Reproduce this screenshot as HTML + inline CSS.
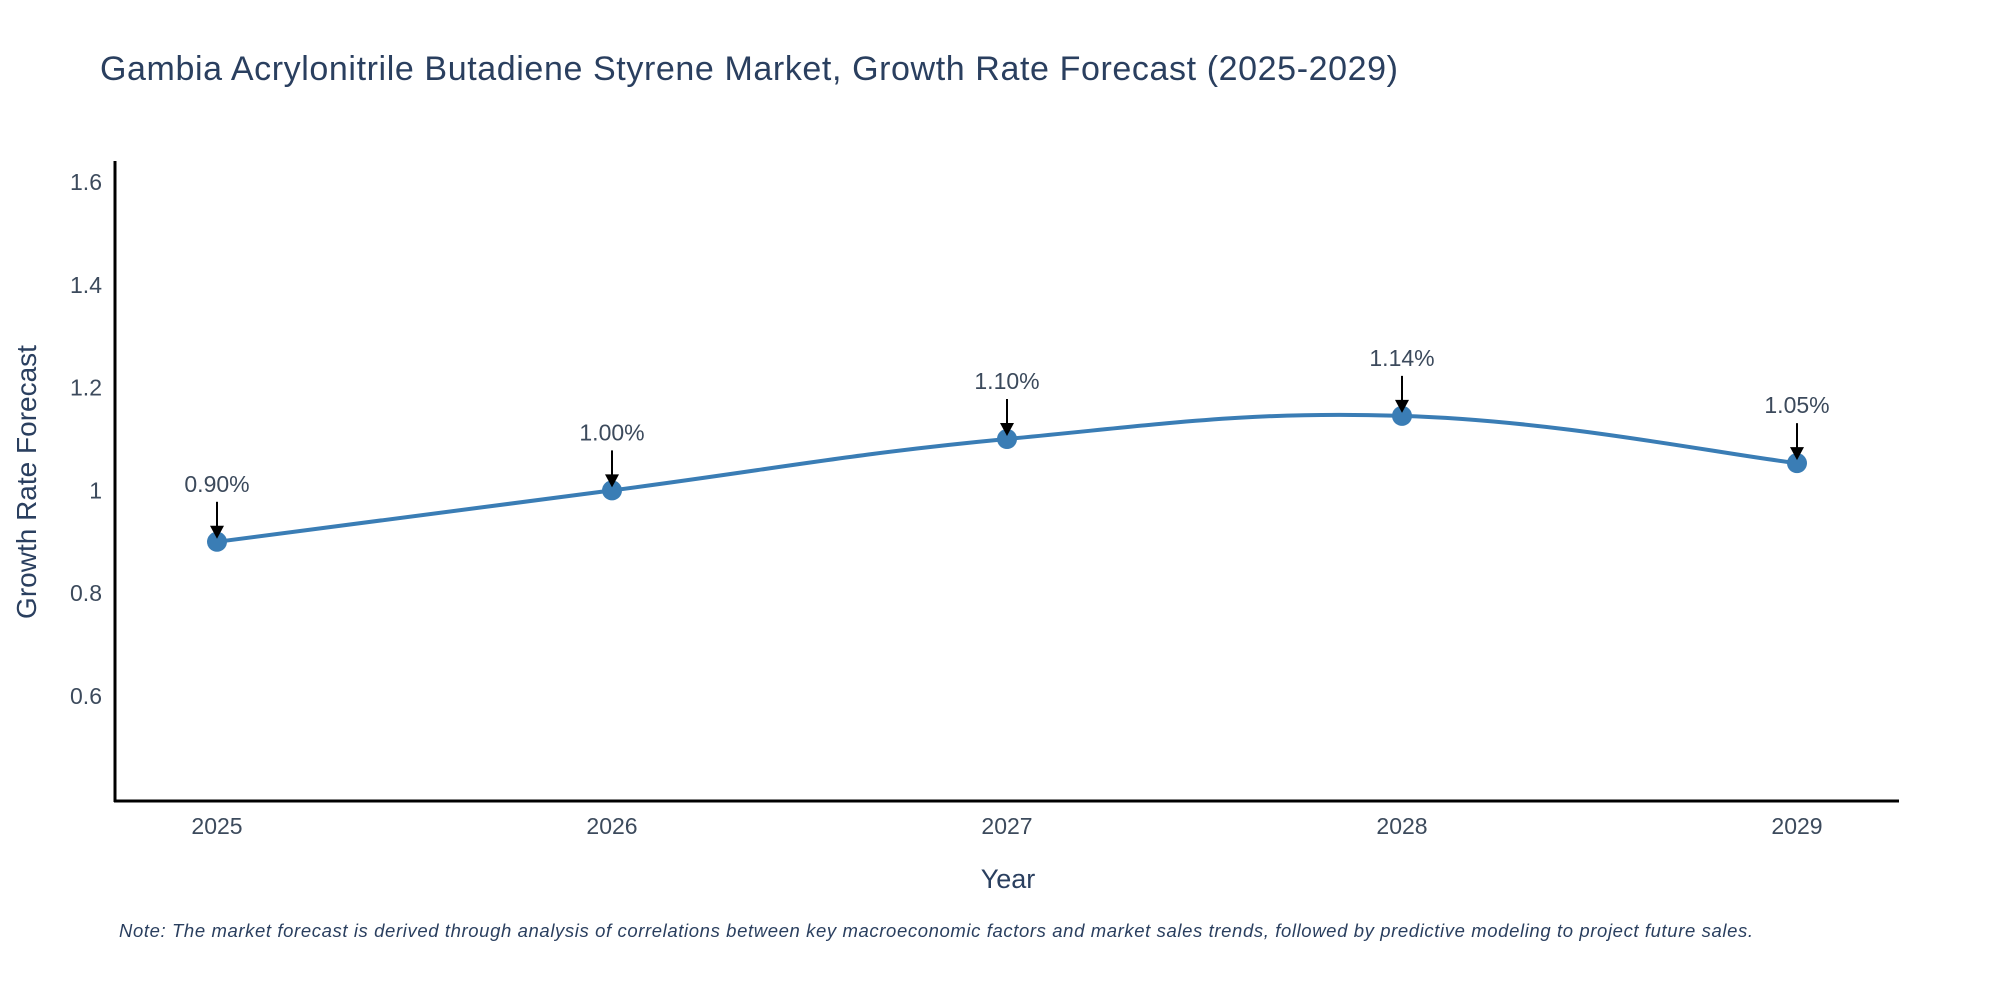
<!DOCTYPE html>
<html><head><meta charset="utf-8"><style>
body{margin:0;background:#fff;}
svg{display:block;font-family:"Liberation Sans",sans-serif;}
</style></head><body>
<svg id="chart" width="2000" height="1000" viewBox="0 0 2000 1000">
<text x="100" y="80" font-size="34" fill="#2a3f5f" textLength="1298">Gambia Acrylonitrile Butadiene Styrene Market, Growth Rate Forecast (2025-2029)</text>
<g id="yticks"></g>
<g id="xticks"></g>
<line x1="115" y1="161" x2="115" y2="802" stroke="#000" stroke-width="3"/>
<line x1="114" y1="801" x2="1899" y2="801" stroke="#000" stroke-width="3"/>
<text x="1008" y="888" font-size="27" fill="#2a3f5f" text-anchor="middle">Year</text>
<text transform="translate(36,482) rotate(-90)" font-size="28" fill="#2a3f5f" text-anchor="middle">Growth Rate Forecast</text>
<g id="series"></g>
<text x="119" y="937" font-size="18.5" font-style="italic" fill="#2a3f5f" textLength="1634">Note: The market forecast is derived through analysis of correlations between key macroeconomic factors and market sales trends, followed by predictive modeling to project future sales.</text>
</svg>
<script>
const years = ["2025","2026","2027","2028","2029"];
const growthValues = [0.90, 1.00, 1.10, 1.145, 1.053];
const growthLabels = ["0.90%","1.00%","1.10%","1.14%","1.05%"];
const yTickValues = [0.6, 0.8, 1, 1.2, 1.4, 1.6];
const yTickLabels = ["0.6","0.8","1","1.2","1.4","1.6"];

const NS = "http://www.w3.org/2000/svg";
function xScale(i){ return 217 + i * 395; }
function yScale(v){ return 696 - (v - 0.6) / 0.2 * 102.8; }
function mk(tag, attrs, parent){
  const e = document.createElementNS(NS, tag);
  for (const k in attrs) e.setAttribute(k, attrs[k]);
  parent.appendChild(e); return e;
}
const yg = document.getElementById('yticks');
yTickValues.forEach((v, i) => {
  const t = mk('text', {x: 102, y: yScale(v) + 8, 'font-size': 23, fill: '#3c4a5c', 'text-anchor': 'end'}, yg);
  
  
  t.textContent = yTickLabels[i];
});
const xg = document.getElementById('xticks');
years.forEach((y, i) => {
  const t = mk('text', {x: xScale(i), y: 834, 'font-size': 23, fill: '#3c4a5c', 'text-anchor': 'middle'}, xg);
  
  
  t.textContent = y;
});
const sg = document.getElementById('series');
const pts = growthValues.map((v, i) => [xScale(i), yScale(v)]);
let d = 'M' + pts[0][0] + ',' + pts[0][1];
const s = 0.2;
for (let i = 0; i < pts.length - 1; i++) {
  const p0 = pts[Math.max(i - 1, 0)], p1 = pts[i], p2 = pts[i + 1], p3 = pts[Math.min(i + 2, pts.length - 1)];
  const c1 = [p1[0] + (p2[0] - p0[0]) * s, p1[1] + (p2[1] - p0[1]) * s];
  const c2 = [p2[0] - (p3[0] - p1[0]) * s, p2[1] - (p3[1] - p1[1]) * s];
  d += ' C' + c1[0] + ',' + c1[1] + ' ' + c2[0] + ',' + c2[1] + ' ' + p2[0] + ',' + p2[1];
}
const line = mk('path', {d: d, fill: 'none', stroke: '#3a7db5', 'stroke-width': 4}, sg);


pts.forEach((p, i) => {
  const c = mk('circle', {cx: p[0], cy: p[1], r: 10, fill: '#3a7db5'}, sg);
  
  
  const a = mk('line', {x1: p[0], y1: p[1] - 40, x2: p[0], y2: p[1] - 14, stroke: '#000', 'stroke-width': 2}, sg);
  
  
  const h = mk('polygon', {points: (p[0]-7)+','+(p[1]-16)+' '+(p[0]+7)+','+(p[1]-16)+' '+p[0]+','+(p[1]-3), fill: '#000'}, sg);
  
  
  const t = mk('text', {x: p[0], y: p[1] - 50, 'font-size': 23, fill: '#3c4a5c', 'text-anchor': 'middle'}, sg);
  
  
  t.textContent = growthLabels[i];
});
</script>
</body></html>
